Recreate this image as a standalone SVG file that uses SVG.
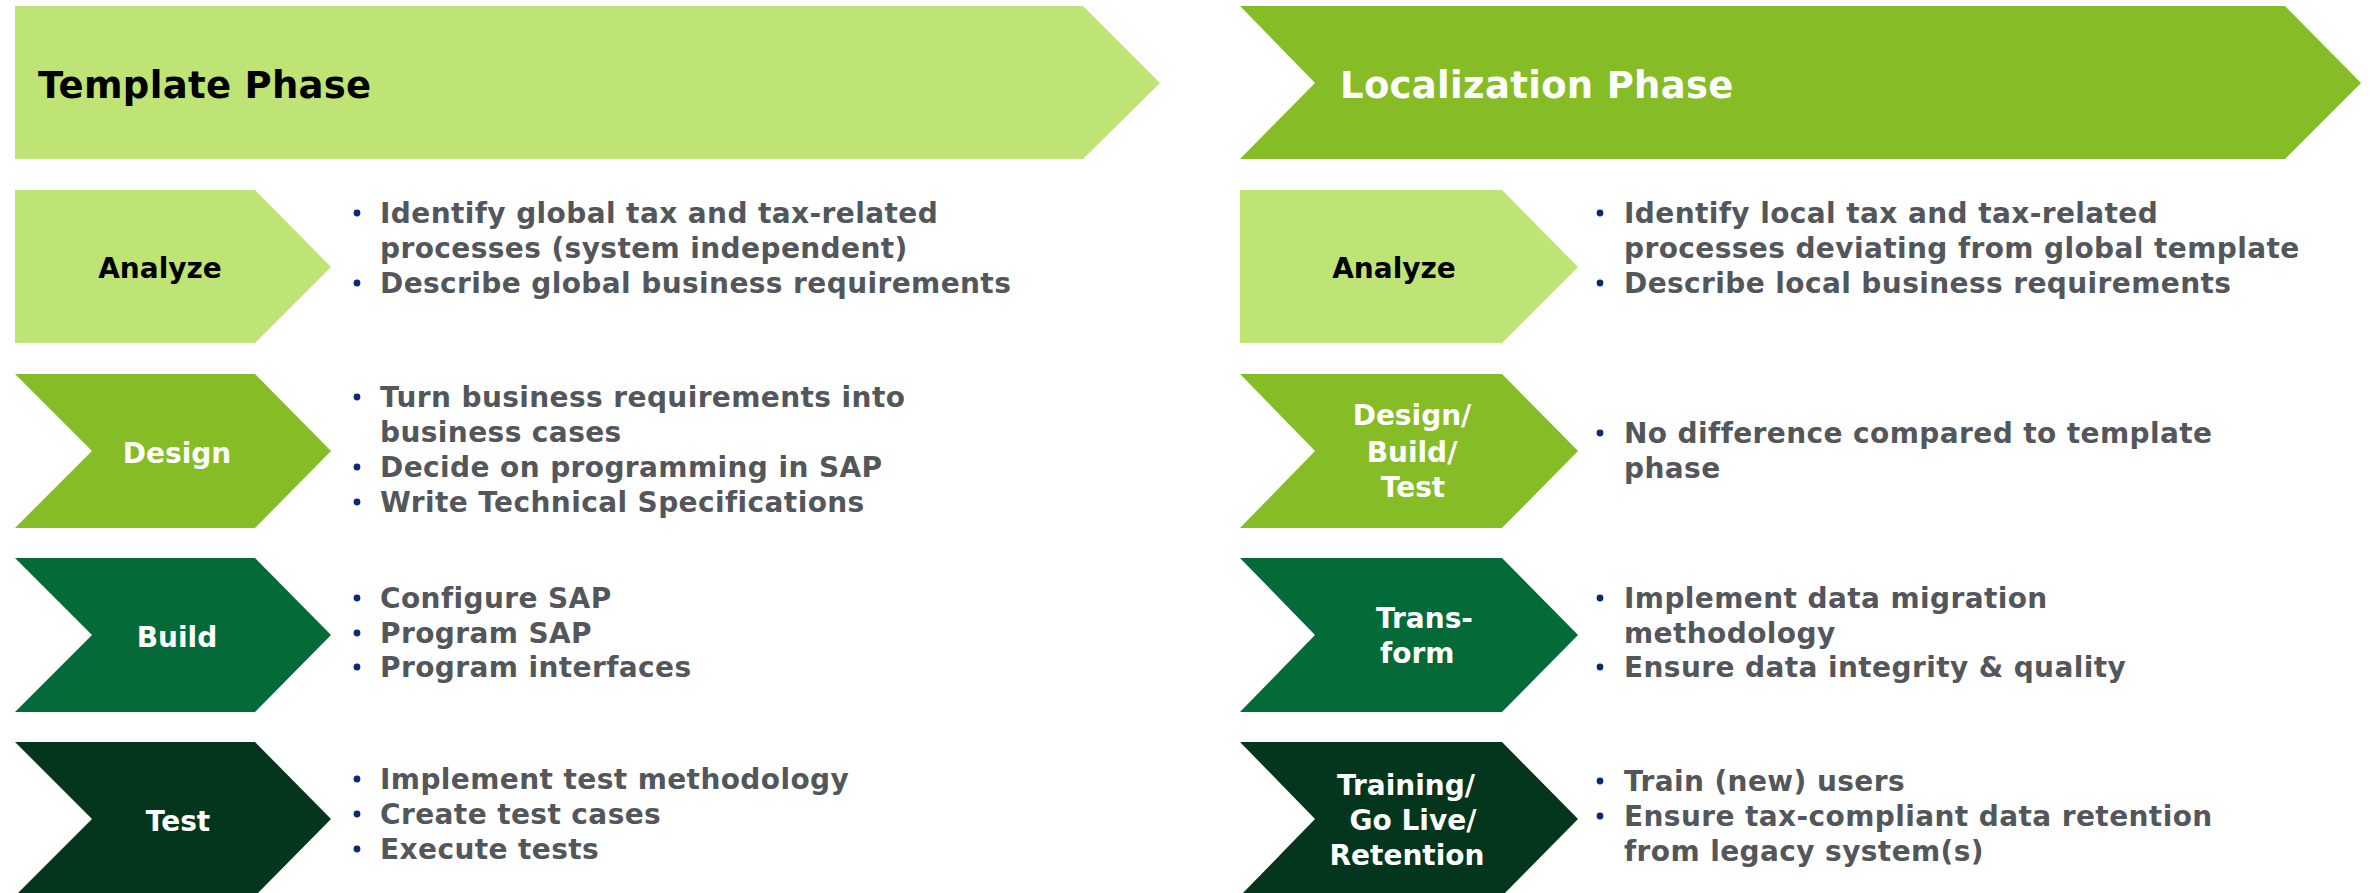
<svg xmlns="http://www.w3.org/2000/svg" width="2370" height="893" viewBox="0 0 2370 893">
<style>
.lg{fill:#BDE474}.mg{fill:#86BC25}.dg{fill:#046A38}.xg{fill:#04361E}
text{font-family:"DejaVu Sans","Liberation Sans",sans-serif;font-weight:bold}
.hd{font-size:37px;letter-spacing:0.3px}
.lb{font-size:28px;text-anchor:middle}
.bt{font-size:28px;fill:#53565A;letter-spacing:0.4px}
.dot{fill:#0B2A6F}
.w{fill:#FFFFFF}.k{fill:#000000}
</style>
<rect width="2370" height="893" fill="#FFFFFF"/>
<g id="template-phase">
<polygon class="lg" points="15,6 1083,6 1160,83 1083,159 15,159"/>
<text class="hd k" x="38" y="98">Template Phase</text>
</g>
<g id="localization-phase">
<polygon class="mg" points="1240,6 2285,6 2361,83 2285,159 1240,159 1315,83"/>
<text class="hd w" x="1340" y="98">Localization Phase</text>
</g>
<g id="t-analyze">
<polygon class="lg" points="15,190 255,190 331,267 255,343 15,343"/>
<text class="lb k" x="160" y="278">Analyze</text>
<circle class="dot" cx="357" cy="213" r="3.4"/><circle class="dot" cx="357" cy="283" r="3.4"/>
<text class="bt" x="380" y="223">Identify global tax and tax-related</text>
<text class="bt" x="380" y="258">processes (system independent)</text>
<text class="bt" x="380" y="293">Describe global business requirements</text>
</g>
<g id="t-design">
<polygon class="mg" points="15,374 255,374 331,451 255,528 15,528 92,451"/>
<text class="lb w" x="177" y="463">Design</text>
<circle class="dot" cx="357" cy="397" r="3.4"/><circle class="dot" cx="357" cy="467" r="3.4"/><circle class="dot" cx="357" cy="502" r="3.4"/>
<text class="bt" x="380" y="407">Turn business requirements into</text>
<text class="bt" x="380" y="442">business cases</text>
<text class="bt" x="380" y="477">Decide on programming in SAP</text>
<text class="bt" x="380" y="512">Write Technical Specifications</text>
</g>
<g id="t-build">
<polygon class="dg" points="15,558 255,558 331,635 255,712 15,712 92,635"/>
<text class="lb w" x="177" y="647">Build</text>
<circle class="dot" cx="357" cy="598" r="3.4"/><circle class="dot" cx="357" cy="633" r="3.4"/><circle class="dot" cx="357" cy="667" r="3.4"/>
<text class="bt" x="380" y="608">Configure SAP</text>
<text class="bt" x="380" y="643">Program SAP</text>
<text class="bt" x="380" y="677">Program interfaces</text>
</g>
<g id="t-test">
<polygon class="xg" points="15,742 255,742 331,819 255,896 15,896 92,819"/>
<text class="lb w" x="178" y="831">Test</text>
<circle class="dot" cx="357" cy="779" r="3.4"/><circle class="dot" cx="357" cy="814" r="3.4"/><circle class="dot" cx="357" cy="849" r="3.4"/>
<text class="bt" x="380" y="789">Implement test methodology</text>
<text class="bt" x="380" y="824">Create test cases</text>
<text class="bt" x="380" y="859">Execute tests</text>
</g>
<g id="l-analyze">
<polygon class="lg" points="1240,190 1502,190 1578,267 1502,343 1240,343"/>
<text class="lb k" x="1394" y="278">Analyze</text>
<circle class="dot" cx="1600" cy="213" r="3.4"/><circle class="dot" cx="1600" cy="283" r="3.4"/>
<text class="bt" x="1624" y="223">Identify local tax and tax-related</text>
<text class="bt" x="1624" y="258">processes deviating from global template</text>
<text class="bt" x="1624" y="293">Describe local business requirements</text>
</g>
<g id="l-design-build-test">
<polygon class="mg" points="1240,374 1502,374 1578,451 1502,528 1240,528 1315,451"/>
<text class="lb w" x="1412" y="425">Design/</text>
<text class="lb w" x="1412" y="462">Build/</text>
<text class="lb w" x="1413" y="497">Test</text>
<circle class="dot" cx="1600" cy="433" r="3.4"/>
<text class="bt" x="1624" y="443">No difference compared to template</text>
<text class="bt" x="1624" y="478">phase</text>
</g>
<g id="l-transform">
<polygon class="dg" points="1240,558 1502,558 1578,635 1502,712 1240,712 1315,635"/>
<text class="w" style="font-size:28px" x="1376" y="628">Trans-</text>
<text class="w" style="font-size:28px" x="1380" y="663">form</text>
<circle class="dot" cx="1600" cy="598" r="3.4"/><circle class="dot" cx="1600" cy="667" r="3.4"/>
<text class="bt" x="1624" y="608">Implement data migration</text>
<text class="bt" x="1624" y="643">methodology</text>
<text class="bt" x="1624" y="677">Ensure data integrity &amp; quality</text>
</g>
<g id="l-training">
<polygon class="xg" points="1240,742 1502,742 1578,819 1502,896 1240,896 1315,819"/>
<text class="lb w" x="1406" y="795">Training/</text>
<text class="lb w" x="1413" y="830">Go Live/</text>
<text class="lb w" x="1407" y="865">Retention</text>
<circle class="dot" cx="1600" cy="781" r="3.4"/><circle class="dot" cx="1600" cy="816" r="3.4"/>
<text class="bt" x="1624" y="791">Train (new) users</text>
<text class="bt" x="1624" y="826">Ensure tax-compliant data retention</text>
<text class="bt" x="1624" y="861">from legacy system(s)</text>
</g>
<g id="connectors"></g>
</svg>
